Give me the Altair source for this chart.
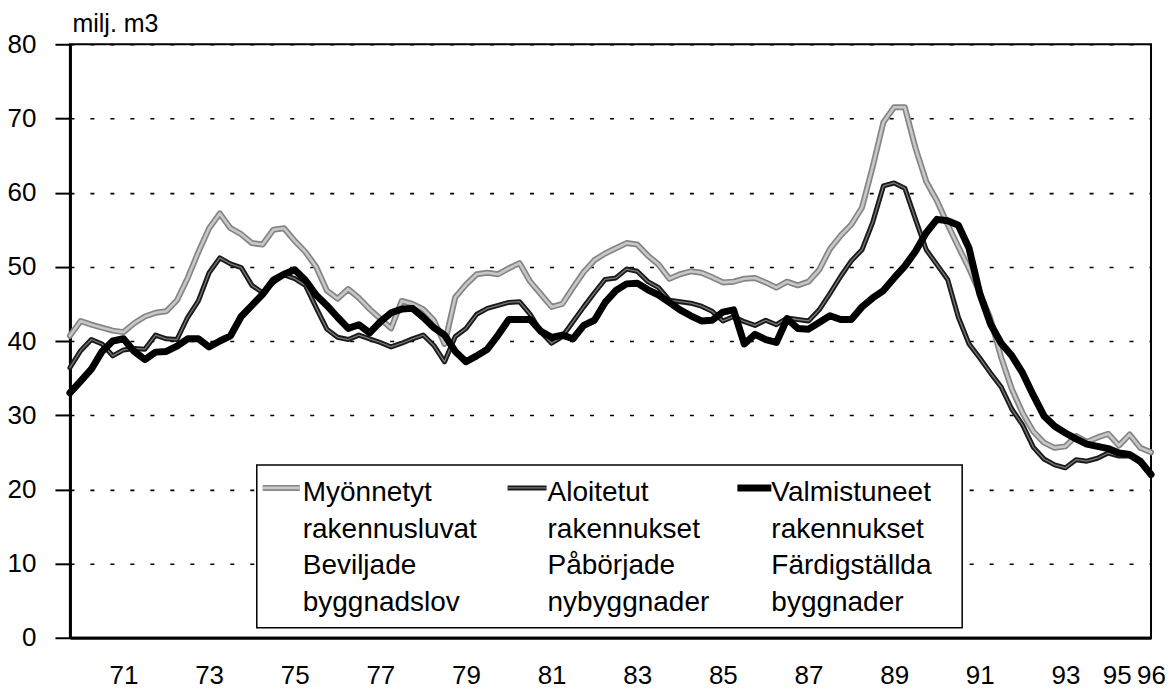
import json
import altair as alt
import pandas as pd

# ---- data (quarterly) ----
START = 69.75          # first quarter position on the year axis
STEP = 0.25            # one quarter

myonnetyt = [40.7, 42.7, 42.2, 41.8, 41.4, 41.2, 42.4, 43.3, 43.8, 44.0,
             45.5, 48.5, 52.0, 55.2, 57.2, 55.2, 54.4, 53.2, 53.0, 55.0,
             55.2, 53.5, 52.0, 50.0, 46.8, 45.7, 47.0, 45.8, 44.3, 43.0,
             41.7, 45.4, 45.0, 44.3, 42.8, 39.6, 45.9, 47.6, 49.0, 49.2,
             49.0, 49.8, 50.5, 48.0, 46.3, 44.6, 45.0, 47.2, 49.3, 50.9,
             51.8, 52.5, 53.2, 53.0, 51.5, 50.3, 48.4, 49.0, 49.4, 49.2,
             48.6, 47.9, 48.0, 48.4, 48.5, 47.9, 47.2, 48.0, 47.5, 48.0,
             49.6, 52.4, 54.2, 55.7, 58.0, 63.5, 69.5, 71.5, 71.5, 66.0,
             61.5, 58.9, 55.7, 52.7, 49.8, 46.5, 43.0, 37.8, 33.5, 30.3,
             27.8, 26.3, 25.6, 25.8, 27.2, 26.4, 27.0, 27.5, 25.9, 27.4,
             25.6, 25.0]

aloitetut = [36.4, 38.7, 40.2, 39.6, 38.0, 38.8, 39.0, 38.9, 40.8, 40.3,
             40.2, 43.2, 45.4, 49.2, 51.2, 50.4, 49.9, 47.5, 46.5, 47.9,
             48.9, 48.4, 47.5, 44.5, 41.6, 40.5, 40.2, 40.8, 40.3, 39.8,
             39.2, 39.7, 40.3, 40.8, 39.4, 37.2, 40.6, 41.7, 43.6, 44.4,
             44.8, 45.2, 45.3, 43.6, 41.2, 39.7, 40.6, 42.6, 44.6, 46.5,
             48.3, 48.5, 49.7, 49.4, 48.0, 47.2, 45.5, 45.3, 45.1, 44.7,
             44.0, 42.7, 43.3, 42.6, 42.1, 42.8, 42.2, 43.1, 42.9, 42.7,
             44.2, 46.4, 48.7, 50.8, 52.3, 56.0, 60.9, 61.3, 60.6, 56.4,
             52.3, 50.3, 48.3, 43.2, 39.6, 37.7, 35.7, 33.8, 30.8, 28.7,
             25.7, 24.1, 23.3, 22.9, 24.0, 23.8, 24.2, 24.9, 24.5, 24.5,
             23.6, 22.0]

valmistuneet = [33.0, 34.6, 36.2, 38.6, 40.0, 40.3, 38.6, 37.5, 38.5, 38.6,
                39.3, 40.3, 40.3, 39.2, 40.0, 40.7, 43.3, 44.8, 46.3, 48.2,
                49.0, 49.6, 48.2, 46.2, 44.8, 43.2, 41.7, 42.2, 41.1, 42.6,
                43.8, 44.3, 44.4, 43.2, 41.8, 40.8, 38.6, 37.2, 38.0, 38.9,
                40.8, 42.9, 42.9, 42.9, 41.3, 40.5, 40.8, 40.3, 42.1, 42.8,
                45.2, 46.8, 47.7, 47.8, 46.9, 46.2, 45.2, 44.2, 43.4, 42.7,
                42.8, 43.9, 44.2, 39.6, 40.9, 40.2, 39.8, 43.0, 41.7, 41.6,
                42.5, 43.4, 42.9, 42.9, 44.6, 45.8, 46.8, 48.5, 50.1, 52.1,
                54.6, 56.4, 56.2, 55.6, 52.5, 46.4, 42.3, 39.7, 38.0, 35.7,
                32.7, 29.9, 28.5, 27.6, 26.8, 26.1, 25.8, 25.5, 24.9, 24.7,
                23.8, 22.0]

tick_pos = [71, 73, 75, 77, 79, 81, 83, 85, 87, 89, 91, 93, 94.2, 95.0]
tick_lab = ["71", "73", "75", "77", "79", "81", "83", "85", "87", "89",
            "91", "93", "95", "96"]
y_ticks = [0, 10, 20, 30, 40, 50, 60, 70, 80]

series_names = ["Myönnetyt", "Aloitetut", "Valmistuneet"]
legend_lines = [
    ["Myönnetyt", "rakennusluvat", "Beviljade", "byggnadslov"],
    ["Aloitetut", "rakennukset", "Påbörjade", "nybyggnader"],
    ["Valmistuneet", "rakennukset", "Färdigställda", "byggnader"],
]
y_title = "milj. m3"

# ---- table ----
n = len(myonnetyt)
t = [START + STEP * i for i in range(n)]
df = pd.DataFrame({
    "t": t * 3,
    "v": myonnetyt + aloitetut + valmistuneet,
    "s": [series_names[0]] * n + [series_names[1]] * n + [series_names[2]] * n,
})

FONT = "Liberation Sans"
W, H = 1082, 594

label_expr = f"{json.dumps(tick_lab)}[indexof({json.dumps(tick_pos)}, datum.value)]"

x_enc = alt.X(
    "t:Q",
    scale=alt.Scale(domain=[START, START + STEP * (n - 1)], nice=False, zero=False),
    axis=alt.Axis(
        values=tick_pos, labelExpr=label_expr, title=None, grid=False,
        ticks=False, tickSize=0, labelPadding=25, labelFontSize=26,
        labelFont=FONT, labelColor="black", domainColor="black",
        domainWidth=3, labelFlush=False, labelOverlap=False,
    ),
)
y_enc = alt.Y(
    "v:Q",
    scale=alt.Scale(domain=[0, 80], nice=False),
    axis=alt.Axis(
        values=y_ticks, title=y_title, titleAngle=0, titleAlign="left",
        titleBaseline="alphabetic", titleX=2, titleY=-13, titleFontSize=25,
        titleFont=FONT, titleFontWeight="normal", titleColor="black",
        grid=True, gridColor="black", gridDash=[4, 16], gridWidth=1.6,
        gridOpacity=1, tickSize=15, tickWidth=2, tickColor="black",
        labelPadding=19, labelFontSize=26, labelFont=FONT, labelColor="black",
        domainColor="black", domainWidth=3,
    ),
)


def series_line(name, color, width):
    return (
        alt.Chart(df)
        .transform_filter(alt.datum.s == name)
        .mark_line(color=color, strokeWidth=width, strokeJoin="round", strokeCap="round")
        .encode(x=x_enc, y=y_enc)
    )


lines = [
    series_line(series_names[0], "#858585", 6),
    series_line(series_names[0], "#c8c8c8", 2.6),
    series_line(series_names[1], "#1a1a1a", 5),
    series_line(series_names[1], "#7a7a7a", 1.3),
    series_line(series_names[2], "#000000", 7),
]

# ---- legend box drawn inside the plot ----
one = pd.DataFrame({"a": [0]})
box = alt.Chart(one).mark_rect(fill="white", stroke="black", strokeWidth=1.5).encode(
    x=alt.value(187), x2=alt.value(893), y=alt.value(421), y2=alt.value(584)
)

sym_x = [(193, 230), (438, 477), (668, 702)]
txt_x = [233, 478, 702]
sym_styles = [
    [("#858585", 6), ("#c8c8c8", 2.6)],
    [("#1a1a1a", 5), ("#7a7a7a", 1.3)],
    [("#000000", 7)],
]
legend_layers = [box]
for k in range(3):
    for col, wdt in sym_styles[k]:
        legend_layers.append(
            alt.Chart(one).mark_rule(color=col, strokeWidth=wdt).encode(
                x=alt.value(sym_x[k][0]), x2=alt.value(sym_x[k][1]), y=alt.value(444)
            )
        )
    legend_layers.append(
        alt.Chart(one).mark_text(
            text="\n".join(legend_lines[k]), lineBreak="\n", lineHeight=36.7,
            align="left", baseline="alphabetic", font=FONT, fontSize=28, color="black",
        ).encode(x=alt.value(txt_x[k]), y=alt.value(457))
    )

chart = (
    alt.layer(*lines, *legend_layers)
    .properties(
        width=W, height=H,
        padding={"left": 62, "top": 36, "right": 14, "bottom": 54},
        autosize=alt.AutoSizeParams(type="none"),
        background="white",
    )
    .configure_view(stroke="black", strokeWidth=2)
)

chart.save("out.html", embed_options={"renderer": "svg", "actions": False})
